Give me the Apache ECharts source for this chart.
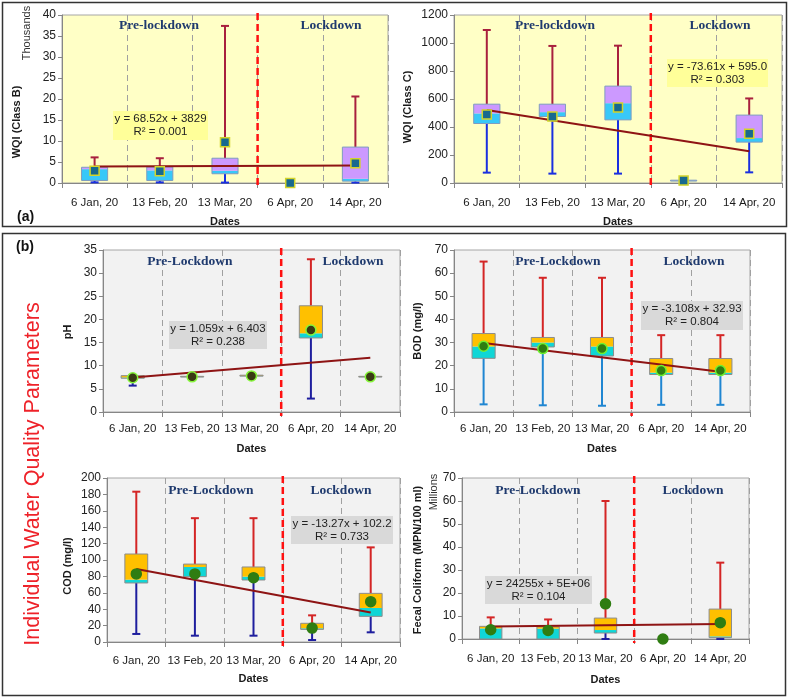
<!DOCTYPE html>
<html><head><meta charset="utf-8">
<script src="https://cdn.jsdelivr.net/npm/echarts/dist/echarts.min.js"></script>
<style>html,body{margin:0;padding:0;background:#fff}#c{width:789px;height:698px}</style>
</head><body><div id="c"></div>
<script>
const categories = ['6 Jan, 20','13 Feb, 20','13 Mar, 20','6 Apr, 20','14 Apr, 20'];

// WQI Class B (thousands)
const wqiB_min  = [0.15, 0.15, 0.1, 0, 0.1];
const wqiB_q1   = [0.6, 0.6, 2.2, 0, 0.45];
const wqiB_med  = [3.3, 3.0, 2.9, 0, 1.0];
const wqiB_q3   = [3.75, 3.8, 5.9, 0, 8.55];
const wqiB_max  = [6.1, 5.9, 37.4, 0, 20.6];
const wqiB_mean = [2.9, 2.8, 9.7, 0, 4.7];
const wqiB_trend = [3.9, 4.17];

// WQI Class C
const wqiC_min  = [74, 67, 67, 12, 76];
const wqiC_q1   = [425, 475, 451, 14, 292];
const wqiC_med  = [497, 506, 570, 17, 321];
const wqiC_q3   = [563, 563, 692, 20, 485];
const wqiC_max  = [1093, 979, 981, 22, 604];
const wqiC_mean = [490, 475, 539, 17, 352];
const wqiC_trend = [521, 227];

// pH
const ph_min  = [5.7, 7.5, 7.7, 2.9, 7.5];
const ph_q1   = [7.3, 7.55, 7.75, 16.0, 7.55];
const ph_med  = [7.45, 7.6, 7.8, 17.0, 7.6];
const ph_q3   = [7.85, 7.7, 7.95, 22.95, 7.7];
const ph_max  = [7.9, 7.75, 8.0, 33.0, 7.75];
const ph_mean = [7.4, 7.6, 7.8, 17.7, 7.6];
const ph_trend = [7.46, 11.7];

// BOD (mg/l)
const bod_min  = [3.3, 2.9, 2.7, 3.1, 3.1];
const bod_q1   = [23.2, 28.1, 24.2, 16.2, 16.2];
const bod_med  = [28.3, 30.0, 28.3, 17.0, 17.0];
const bod_q3   = [33.9, 32.2, 32.2, 23.1, 23.1];
const bod_max  = [65, 58, 58, 33.2, 33.2];
const bod_mean = [28.4, 27.4, 27.4, 17.9, 17.9];
const bod_trend = [29.8, 17.4];

// COD (mg/l)
const cod_min  = [9.8, 7.7, 7.7, 2.4, 11.8];
const cod_q1   = [72, 79.7, 75.6, 15.4, 31.3];
const cod_med  = [76, 91.5, 79.7, 16.7, 41.5];
const cod_q3   = [107.3, 95, 91.5, 22.8, 59.3];
const cod_max  = [183.3, 151, 151, 32.5, 115.4];
const cod_mean = [83, 83, 78.5, 17, 49.2];
const cod_trend = [88.9, 35.9];

// Fecal Coliform (millions MPN/100 ml)
const fc_min  = [0, 0, 0, 0, 0];
const fc_q1   = [0, 0, 2.6, 0, 0.6];
const fc_med  = [4.6, 4.5, 3.9, 0, 1.15];
const fc_q3   = [5.5, 5.3, 9.1, 0, 13.0];
const fc_max  = [9.4, 8.5, 60, 0, 33.2];
const fc_mean = [4.0, 3.75, 15.3, 0, 7.1];
const fc_trend = [5.4, 6.5];

const styleA = {bg:'#FFFFC6', low:'#38C8F8', up:'#CC99FF', border:'#7F9CC0', upW:'#A8203E', lowW:'#1A2FE0',
  sym:'rect', symSize:9, mFill:'#17698F', mBorder:'#D2D42A', frac:0.4};
const styleB = {bg:'#F2F2F2', low:'#10D6D6', up:'#FFC000', border:'#8C8C8C', upW:'#D42525', lowW:'#1E1E9E',
  sym:'circle', symSize:10, mFill:'#2F7D12', mBorder:'#70F030', frac:0.39};

const panels = [
  {grid:{left:62,top:15,width:326,height:168}, max:40, interval:5, name:'WQI (Class B)', nx:17, ny:122, xGap:33, lm:14,
   st:styleA, d:[wqiB_min,wqiB_q1,wqiB_med,wqiB_q3,wqiB_max], mean:wqiB_mean, trend:wqiB_trend},
  {grid:{left:454,top:15,width:328,height:168}, max:1200, interval:200, name:'WQI (Class C)', nx:408, ny:107, xGap:33, lm:14,
   st:styleA, d:[wqiC_min,wqiC_q1,wqiC_med,wqiC_q3,wqiC_max], mean:wqiC_mean, trend:wqiC_trend},
  {grid:{left:103,top:250,width:297,height:162}, max:35, interval:5, name:'pH', nx:68, ny:332, xGap:31, lm:11,
   st:Object.assign({}, styleB, {mFill:'#3A3A14', mBorder:'#86F53A'}), d:[ph_min,ph_q1,ph_med,ph_q3,ph_max], mean:ph_mean, trend:ph_trend},
  {grid:{left:454,top:250,width:296,height:162}, max:70, interval:10, name:'BOD (mg/l)', nx:418, ny:331, xGap:31, lm:11,
   st:Object.assign({}, styleB, {lowW:'#1F86D2'}), d:[bod_min,bod_q1,bod_med,bod_q3,bod_max], mean:bod_mean, trend:bod_trend},
  {grid:{left:107,top:478,width:293,height:164}, max:200, interval:20, name:'COD (mg/l)', nx:68, ny:566, xGap:31, lm:13,
   st:Object.assign({}, styleB, {mBorder:'#2F7D12'}), d:[cod_min,cod_q1,cod_med,cod_q3,cod_max], mean:cod_mean, trend:cod_trend},
  {grid:{left:462,top:478,width:287,height:161}, max:70, interval:10, name:'Fecal Coliform (MPN/100 ml)', nx:418, ny:560, xGap:35, lm:14,
   st:Object.assign({}, styleB, {mBorder:'#2F7D12'}), d:[fc_min,fc_q1,fc_med,fc_q3,fc_max], mean:fc_mean, trend:fc_trend}
];

function makeRender(st) {
  return function(params, api) {
    const i = api.value(0);
    const vmin = api.value(1), q1 = api.value(2), med = api.value(3), q3 = api.value(4), vmax = api.value(5);
    const band = api.size([1, 0])[0];
    const bw = band * st.frac;
    const cx = api.coord([i, 0])[0];
    const y = v => api.coord([i, v])[1];
    const cap = 4;
    const ch = [];
    if (vmax > q3) {
      ch.push({type:'line', shape:{x1:cx,y1:y(q3),x2:cx,y2:y(vmax)}, style:{stroke:st.upW,lineWidth:2}});
      ch.push({type:'line', shape:{x1:cx-cap,y1:y(vmax),x2:cx+cap,y2:y(vmax)}, style:{stroke:st.upW,lineWidth:2}});
    }
    if (q1 > vmin) {
      ch.push({type:'line', shape:{x1:cx,y1:y(q1),x2:cx,y2:y(vmin)}, style:{stroke:st.lowW,lineWidth:2}});
      ch.push({type:'line', shape:{x1:cx-cap,y1:y(vmin),x2:cx+cap,y2:y(vmin)}, style:{stroke:st.lowW,lineWidth:2}});
    }
    if (q3 > q1) {
      ch.push({type:'rect', shape:{x:cx-bw/2,y:y(med),width:bw,height:y(q1)-y(med)}, style:{fill:st.low}});
      ch.push({type:'rect', shape:{x:cx-bw/2,y:y(q3),width:bw,height:y(med)-y(q3)}, style:{fill:st.up}});
      ch.push({type:'rect', shape:{x:cx-bw/2,y:y(q3),width:bw,height:y(q1)-y(q3)}, style:{fill:null,stroke:st.border,lineWidth:1}});
    }
    if (i === 2) {
      const xd = cx + band/2;
      const cs = params.coordSys;
      ch.push({type:'line', shape:{x1:xd,y1:cs.y-2,x2:xd,y2:cs.y+cs.height+4}, style:{stroke:'#FF1010',lineWidth:2.5,lineDash:[7,4]}});
    }
    return {type:'group', children:ch};
  };
}

const grids = [], xAxes = [], yAxes = [], series = [], nameTexts = [];
panels.forEach((p, k) => {
  grids.push(Object.assign({show:true, backgroundColor:p.st.bg, borderColor:'#A6A6A6', borderWidth:1}, p.grid));
  xAxes.push({type:'category', gridIndex:k, data:categories, boundaryGap:true,
    axisLine:{lineStyle:{color:'#868686',width:1}},
    axisTick:{show:true,length:5,lineStyle:{color:'#868686'}},
    axisLabel:{fontSize:11.5, color:'#1a1a1a', margin:p.lm, fontFamily:'Liberation Sans', interval:0},
    splitLine:{show:true, lineStyle:{type:[6,4], color:'#A0A0A0', width:1}},
    name:'Dates', nameLocation:'middle', nameGap:p.xGap,
    nameTextStyle:{fontWeight:'bold', fontSize:11, color:'#1a1a1a', fontFamily:'Liberation Sans'}});
  yAxes.push({type:'value', gridIndex:k, min:0, max:p.max, interval:p.interval,
    axisLine:{show:true, lineStyle:{color:'#868686'}},
    axisTick:{show:true, length:4, lineStyle:{color:'#868686'}},
    axisLabel:{fontSize:12, color:'#222', margin:6, fontFamily:'Liberation Sans', formatter:v => String(v)},
    splitLine:{show:false}});
  nameTexts.push({type:'text', z:100, x:p.nx, y:p.ny, rotation:Math.PI/2,
    style:{text:p.name, font:'bold 11px "Liberation Sans"', fill:'#1a1a1a', textAlign:'center', textVerticalAlign:'middle'}});
  const boxData = categories.map((c, i) => [i, p.d[0][i], p.d[1][i], p.d[2][i], p.d[3][i], p.d[4][i]]);
  series.push({type:'custom', xAxisIndex:k, yAxisIndex:k, renderItem:makeRender(p.st), data:boxData,
    encode:{x:0, y:[1,2,3,4,5]}, z:2, silent:true});
  series.push({type:'line', xAxisIndex:k, yAxisIndex:k, data:[[0, p.trend[0]], [4, p.trend[1]]],
    symbol:'none', lineStyle:{color:'#8E1414', width:2}, z:3, silent:true});
  series.push({type:'scatter', xAxisIndex:k, yAxisIndex:k, data:p.mean, symbol:p.st.sym, symbolSize:p.st.symSize,
    itemStyle:{color:p.st.mFill, borderColor:p.st.mBorder, borderWidth:1.5, opacity:1}, z:4, silent:true});
});

const serif = 'bold 13.5px "Liberation Serif"';
const navy = '#1F3A6E';
function lbl(t, x, y) { return {type:'text', x:x, y:y, z:100, style:{text:t, font:serif, fill:navy, textAlign:'center', textVerticalAlign:'middle'}}; }
function eq(text, x, y, w, h, fill) {
  return [
    {type:'rect', z:90, shape:{x:x, y:y, width:w, height:h}, style:{fill:fill}},
    {type:'text', z:100, x:x+w/2, y:y+h/2, style:{text:text, font:'11.5px "Liberation Sans"', fill:'#222', textAlign:'center', textVerticalAlign:'middle', lineHeight:13}}
  ];
}

const graphics = [
  {type:'rect', z:100, shape:{x:2.5,y:2.5,width:784,height:224}, style:{fill:null, stroke:'#333', lineWidth:1.5}},
  {type:'rect', z:100, shape:{x:2.5,y:233.5,width:783,height:462}, style:{fill:null, stroke:'#333', lineWidth:1.5}},
  {type:'text', z:100, x:17, y:217, style:{text:'(a)', font:'bold 14px "Liberation Sans"', fill:'#111', textVerticalAlign:'middle'}},
  {type:'text', z:100, x:16, y:247, style:{text:'(b)', font:'bold 14px "Liberation Sans"', fill:'#111', textVerticalAlign:'middle'}},
  {type:'text', z:100, x:33, y:474, rotation:Math.PI/2, style:{text:'Individual Water Quality Parameters', font:'21.5px "Liberation Sans"', fill:'#EE2229', textAlign:'center', textVerticalAlign:'middle'}},
  {type:'text', z:100, x:27, y:33, rotation:Math.PI/2, style:{text:'Thousands', font:'11px "Liberation Sans"', fill:'#333', textAlign:'center', textVerticalAlign:'middle'}},
  {type:'text', z:100, x:434, y:492, rotation:Math.PI/2, style:{text:'Millions', font:'11px "Liberation Sans"', fill:'#333', textAlign:'center', textVerticalAlign:'middle'}},
  lbl('Pre-lockdown',159,26), lbl('Lockdown',331,26),
  lbl('Pre-lockdown',555,26), lbl('Lockdown',720,26),
  lbl('Pre-Lockdown',190,262), lbl('Lockdown',353,262),
  lbl('Pre-Lockdown',558,262), lbl('Lockdown',694,262),
  lbl('Pre-Lockdown',211,491), lbl('Lockdown',341,491),
  lbl('Pre-Lockdown',538,491), lbl('Lockdown',693,491)
].concat(
  nameTexts,
  eq('y = 68.52x + 3829\nR² = 0.001', 113, 111, 95, 29, '#FFFF99'),
  eq('y = -73.61x + 595.0\nR² = 0.303', 667, 59, 101, 28, '#FFFF99'),
  eq('y = 1.059x + 6.403\nR² = 0.238', 169, 321, 98, 28, '#D9D9D9'),
  eq('y = -3.108x + 32.93\nR² = 0.804', 641, 301, 102, 29, '#D9D9D9'),
  eq('y = -13.27x + 102.2\nR² = 0.733', 291, 516, 102, 28, '#D9D9D9'),
  eq('y = 24255x + 5E+06\nR² = 0.104', 485, 576, 107, 28, '#D9D9D9')
);

const chart = echarts.init(document.getElementById('c'), null, {renderer:'canvas'});
chart.setOption({
  animation:false,
  backgroundColor:'#fff',
  textStyle:{fontFamily:'Liberation Sans'},
  grid:grids, xAxis:xAxes, yAxis:yAxes, series:series, graphic:graphics
});
</script></body></html>
